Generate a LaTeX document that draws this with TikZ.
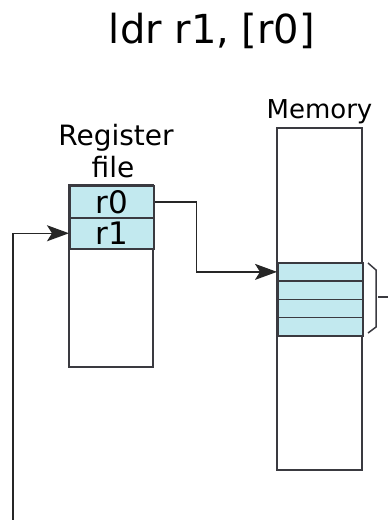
\documentclass[tikz,border=0pt]{standalone}
\usepackage{fontspec}
\setmainfont{DejaVu Sans}
\usetikzlibrary{arrows.meta}
\definecolor{cellfill}{HTML}{C2E9EF}
\definecolor{edge}{HTML}{3A3A40}
\begin{document}
\begin{tikzpicture}[x=1pt,y=-1pt,
  cell/.style={draw=edge,line width=1.5pt,fill=cellfill,minimum width=84pt,inner sep=0pt,anchor=north west},
  box/.style={draw=edge,line width=1.5pt},
  conn/.style={draw=black!85,line width=1.5pt,-{Stealth[length=22pt,width=16pt,inset=5pt]}},
  lbl/.style={inner sep=0pt,anchor=base}]
\useasboundingbox (0,0) rectangle (388,520);
\node[lbl,font=\fontsize{40}{48}\selectfont] (title) at (212,43) {ldr r1, [r0]};
\node[lbl,font=\fontsize{26}{30}\selectfont] (memlbl) at (319.5,118) {Memory};
\node[lbl,font=\fontsize{28}{30}\selectfont] (reglbl) at (116,145) {Register};
\node[lbl,font=\fontsize{28}{30}\selectfont] (filelbl) at (113,177) {file};
% register file
\draw[box] (69,185) rectangle (153,367);
\node[cell,minimum height=32pt,font=\fontsize{31}{32}\selectfont] (r0) at (69,185) {r0};
\node[cell,minimum height=31pt,font=\fontsize{31}{32}\selectfont] (r1) at (69,217) {r1};
% memory
\draw[box] (277,128) rectangle (362,470);
\node[cell,minimum width=85pt,minimum height=18.25pt] (m1) at (277,262) {};
\node[cell,minimum width=85pt,minimum height=18.25pt] (m2) at (277,280.25) {};
\node[cell,minimum width=85pt,minimum height=18.25pt] (m3) at (277,298.5) {};
\node[cell,minimum width=85pt,minimum height=18.25pt] (m4) at (277,316.75) {};
% brace
\draw[edge,line width=1.5pt] (368,263) -- (376,270) -- (376,327) -- (368,333);
\coordinate (bout) at (378,297);
\coordinate (bend) at (388,297);
\draw[edge,line width=1.5pt] (bout) -- (bend);
% connectors
\draw[conn] (r0.east) -- ++(42,0) |- (m1.west);
\coordinate (loopstart) at (13,520);
\draw[conn] (loopstart) |- (r1.west);
\end{tikzpicture}
\end{document}
